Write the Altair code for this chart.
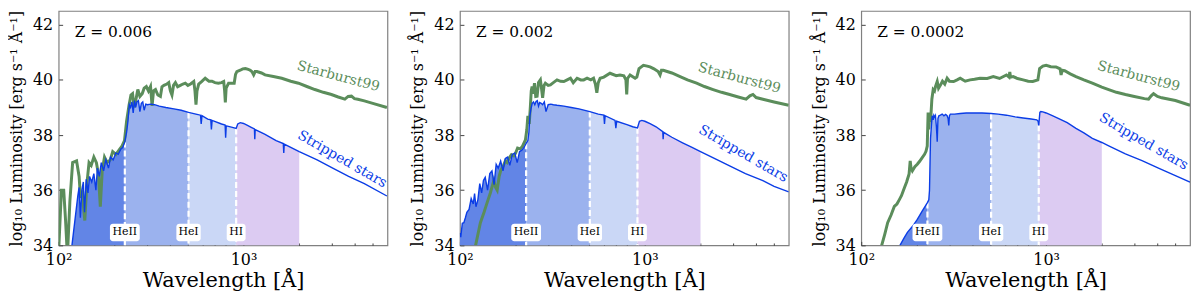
import altair as alt
import pandas as pd

FONT = "DejaVu Serif"
GREEN = "#5b8d5b"
BLUE = "#0b3de6"
REGIONS = ["r0", "r1", "r2", "r3"]
REGION_COLORS = ["#6285e6", "#9bb2ee", "#cad7f6", "#dccbf2"]
EDGES = [228, 504, 912, 2000]
EDGE_LABELS = ["HeII", "HeI", "HI"]
Z_LABELS = ["Z = 0.006", "Z = 0.002", "Z = 0.0002"]
X_TICKS = [100, 200, 300, 400, 500, 600, 700, 800, 900, 1000, 2000, 3000, 4000, 5000]
Y_TICKS = [34, 36, 38, 40, 42]

# ---------------- Panel 1 (Z = 0.006) ----------------
sb1_lam = [100, 103.5, 106.5, 109, 111.5, 115, 119, 125, 129, 131, 134, 138.5, 142, 146, 150, 155, 160, 164, 168, 172,
           177, 183, 190, 196, 204, 212, 220, 227, 233, 240, 246, 251, 256, 262, 268, 275, 283, 290, 298, 306,
           314, 320, 326, 334, 344, 355, 362, 371, 385, 394, 402, 410, 418, 428, 440, 455, 470, 484, 500, 517,
           538, 546, 553, 560, 572, 595, 620, 650, 675, 700, 730, 760, 781, 790, 797, 805, 830, 860, 890, 905,
           920, 959, 990, 1023, 1060, 1087, 1110, 1134, 1155, 1181, 1250, 1307, 1450, 1609, 1800, 1982, 2200, 2431,
           2700, 2987, 3250, 3530, 3680, 3832, 3980, 4148, 4500, 5000, 5960]
sb1_lum = [33.8, 36.0, 36.0, 34.9, 33.6, 35.6, 37.0, 37.06, 36.5, 35.8, 35.9, 34.9, 36.2, 37.0, 36.9, 37.2, 37.0, 36.6, 35.4, 36.7,
           37.2, 37.0, 37.1, 37.4, 37.3, 37.45, 37.6, 37.8, 38.5, 39.06, 39.45, 39.5, 39.0, 39.3, 39.65, 39.4, 39.5, 39.7, 39.76, 39.6,
           39.76, 39.06, 39.6, 39.65, 39.45, 39.4, 39.75, 39.8, 39.85, 39.9, 39.6, 39.45, 39.8, 39.9, 39.75, 39.8, 39.85, 39.88, 39.8, 39.85,
           39.94, 39.6, 39.1, 39.6, 39.85, 39.95, 40.06, 39.95, 39.95, 39.9, 39.88, 39.9, 39.94, 39.6, 39.18, 39.7, 39.88, 39.88, 39.88, 40.2,
           40.3, 40.35, 40.4, 40.41, 40.38, 40.35, 40.3, 40.18, 40.3, 40.3, 40.25, 40.18, 40.12, 40.06, 39.95, 39.88, 39.76, 39.65,
           39.55, 39.47, 39.38, 39.3, 39.4, 39.41, 39.32, 39.3, 39.24, 39.15, 39.0]
ss1_lam = [118, 127, 129, 131, 133.5, 136, 138, 141, 144, 147, 151, 155, 159, 162, 166, 170, 175, 180, 186, 191,
           197, 204, 210, 217, 222, 228, 233, 237, 241, 245, 249, 253, 257, 261, 265, 270, 275, 280, 285, 290,
           296, 302, 315, 330, 350, 380, 420, 460, 504, 560, 585, 590, 596, 640, 665, 670, 676, 760, 795, 800,
           806, 870, 912, 930, 960, 1000, 1050, 1100, 1145, 1150, 1156, 1300, 1500, 1640, 1650, 1660, 2000, 2500, 3000, 3700,
           4500, 5960]
ss1_lum = [34.0, 35.8, 36.1, 35.0, 36.0, 36.3, 35.2, 36.4, 35.9, 36.5, 36.3, 36.6, 36.0, 36.8, 36.5, 37.0, 36.7, 37.1, 36.8, 37.2,
           37.1, 37.35, 37.3, 37.5, 37.55, 37.76, 38.1, 38.5, 39.1, 39.0, 39.2, 38.8, 39.25, 39.0, 39.2, 39.25, 38.85, 39.15, 39.2, 38.9,
           39.12, 39.1, 39.12, 39.1, 39.05, 39.0, 38.95, 38.9, 38.82, 38.75, 38.72, 38.4, 38.7, 38.58, 38.55, 38.2, 38.53, 38.4, 38.36, 37.9,
           38.33, 38.28, 38.24, 38.4, 38.45, 38.42, 38.35, 38.28, 38.22, 37.85, 38.2, 38.03, 37.8, 37.69, 37.35, 37.67, 37.4, 37.1, 36.82, 36.5,
           36.24, 35.79]

# ---------------- Panel 2 (Z = 0.002) ----------------
sb2_lam = [121.5, 129, 135, 140, 146, 152.5, 156, 159, 163, 166, 172, 176, 180, 186, 190, 195.5, 200, 205, 212, 218,
           226, 230, 233, 237, 240.5, 243, 245.6, 249, 253, 257, 261.4, 266, 272.3, 276, 280, 285, 289.7, 300, 308.5, 320,
           335, 350, 364.6, 380, 396, 410, 430, 450, 467, 487, 510, 528, 540, 550, 560, 573, 600, 648, 700, 734,
           770, 790, 798, 806, 832, 886, 905, 930, 982, 1030, 1067, 1120, 1180, 1208, 1230, 1259, 1400, 1551, 1700, 1905,
           2100, 2340, 2600, 2874, 3200, 3530, 3700, 3843, 4000, 4349, 5000, 6000]
sb2_lum = [34.0, 34.82, 35.2, 35.53, 35.9, 36.35, 36.1, 36.0, 36.5, 36.7, 36.9, 37.06, 37.0, 37.2, 37.29, 37.25, 37.35, 37.53, 37.5, 37.6,
           37.82, 38.2, 38.7, 38.4, 39.06, 39.6, 39.76, 39.5, 39.88, 39.4, 39.41, 39.9, 40.0, 39.7, 39.35, 39.8, 39.88, 39.8, 39.82, 39.9,
           40.0, 39.95, 39.94, 40.0, 40.06, 39.9, 40.06, 40.0, 40.0, 40.06, 40.0, 40.06, 39.85, 39.53, 39.9, 40.06, 40.1, 40.24, 40.15, 40.18,
           40.15, 40.0, 39.47, 40.05, 40.18, 40.06, 40.1, 40.41, 40.53, 40.5, 40.47, 40.4, 40.3, 40.18, 40.35, 40.35, 40.25, 40.12, 40.0, 39.88,
           39.76, 39.65, 39.55, 39.47, 39.38, 39.3, 39.42, 39.47, 39.36, 39.3, 39.2, 39.08]
ss2_lam = [100, 101, 103, 105, 107, 109, 112, 115, 118, 120, 122, 125, 128, 131, 134, 137, 141, 145, 149, 153,
           157, 161, 166, 171, 176, 181, 186, 192, 198, 204, 210, 216, 222, 228, 233, 236, 239, 242, 246, 250,
           254, 258, 262, 266, 270, 275, 280, 286, 292, 300, 310, 320, 335, 365, 400, 440, 504, 560, 600, 605,
           610, 690, 697, 704, 800, 860, 912, 935, 963, 1000, 1067, 1150, 1250, 1256, 1262, 1400, 1600, 1800, 2000, 2500,
           2874, 3500, 4349, 5000, 6000]
ss2_lum = [34.45, 34.3, 34.8, 34.82, 35.0, 35.2, 35.3, 35.7, 35.5, 35.88, 35.4, 35.65, 36.24, 35.9, 36.35, 36.47, 36.0, 36.6, 36.7, 36.2,
           36.94, 36.8, 37.06, 36.7, 37.15, 37.2, 36.9, 37.3, 37.35, 37.0, 37.4, 37.45, 37.55, 37.7, 37.8, 38.1, 38.7, 38.94, 39.15, 39.2,
           39.1, 39.22, 39.25, 39.05, 39.18, 39.15, 39.1, 39.2, 38.85, 39.1, 39.12, 39.1, 39.08, 39.05, 39.0, 38.95, 38.85, 38.76, 38.72, 38.4,
           38.7, 38.53, 38.25, 38.5, 38.38, 38.3, 38.26, 38.5, 38.53, 38.5, 38.41, 38.3, 38.12, 37.85, 38.1, 37.92, 37.72, 37.55, 37.4, 37.08,
           36.88, 36.6, 36.35, 36.14, 35.94]

# ---------------- Panel 3 (Z = 0.0002) ----------------
sb3_lam = [129, 134, 139, 145, 151, 156, 160.5, 165, 170.6, 176, 181.5, 184, 186, 189, 195, 201, 207, 213.7, 220, 224,
           227.5, 230, 232, 234, 237, 241, 245, 249, 252.3, 257.6, 262, 268.7, 275, 283, 291.4, 300, 316, 330, 343, 365,
           388, 410, 439, 480, 518, 560, 610, 630, 636, 642, 663, 700, 751, 800, 847, 902, 912, 922, 960, 1000,
           1060, 1130, 1190, 1205, 1220, 1260, 1350, 1450, 1600, 1778, 2000, 2180, 2400, 2683, 3000, 3400, 3580, 3700, 3810, 4000,
           4220, 5000, 6000]
sb3_lum = [34.0, 34.4, 34.82, 35.1, 35.41, 35.5, 35.65, 35.8, 36.06, 36.3, 36.59, 37.06, 36.8, 36.7, 36.85, 36.94, 37.05, 37.18, 37.3, 37.41,
           37.6, 38.82, 38.2, 38.6, 38.47, 39.3, 39.65, 39.6, 39.76, 39.94, 39.7, 39.82, 39.95, 39.85, 40.06, 39.95, 39.94, 40.0, 40.06, 39.95,
           40.0, 40.02, 40.06, 40.05, 40.12, 40.05, 40.18, 40.1, 40.29, 40.1, 40.12, 40.05, 40.0, 39.95, 39.94, 40.0, 40.2, 40.41, 40.5, 40.53,
           40.48, 40.47, 40.4, 40.18, 40.35, 40.33, 40.22, 40.12, 40.0, 39.88, 39.74, 39.65, 39.55, 39.47, 39.4, 39.32, 39.3, 39.42, 39.5, 39.4,
           39.35, 39.25, 39.08]
ss3_lam = [162, 170, 177.7, 190, 201, 214, 228, 232, 234, 237, 240, 242, 245, 247, 250, 252, 255, 257.6, 260, 263,
           268, 274, 280, 286, 291.4, 295, 297.4, 300, 303.5, 320, 343, 370, 404, 450, 504, 550, 610, 680, 751, 830,
           890, 905, 912, 925, 936, 960, 1000, 1080, 1178, 1300, 1450, 1600, 1778, 2000, 2180, 2683, 3300, 4050, 5000, 6000]
ss3_lum = [34.0, 34.25, 34.47, 34.7, 34.94, 35.25, 35.55, 35.65, 36.0, 37.88, 38.4, 38.7, 38.55, 38.72, 38.65, 38.7, 38.3, 37.76, 38.6, 38.7,
           38.72, 38.76, 38.7, 38.75, 38.7, 38.6, 38.35, 38.7, 38.76, 38.76, 38.78, 38.8, 38.8, 38.8, 38.78, 38.76, 38.72, 38.66, 38.62, 38.58,
           38.55, 38.5, 38.35, 38.82, 38.85, 38.84, 38.8, 38.7, 38.59, 38.45, 38.24, 38.08, 37.88, 37.73, 37.61, 37.32, 37.07, 36.8, 36.53, 36.29]

# label anchors (data coordinates: wavelength, log L)
sb_label_lam = [3251, 3245, 3162]
sb_label_lum = [40.12, 40.06, 40.12]
ss_label_lam = [3413, 3405, 3365]
ss_label_lum = [37.12, 37.32, 37.76]

PW, PH = 331, 236
xscale = alt.Scale(type="log", domain=[100, 6000], nice=False)
yscale = alt.Scale(domain=[34, 42.5], nice=False, zero=False)

xaxis = alt.Axis(
    values=X_TICKS,
    labelExpr="datum.value == 100 ? '10²' : (datum.value == 1000 ? '10³' : '')",
    title="Wavelength [Å]", domain=False, grid=False,
    tickSize=4, offset=-4, tickWidth=1,
    tickDash={"condition": {"test": "datum.value != 100 && datum.value != 1000", "value": [0, 1.6, 2.4, 20]}, "value": []},
    labelFlush=False, labelOverlap=False, labelPadding=6, labelFontSize=16,
    titleFontSize=21, titlePadding=2, titleFontWeight="normal",
)
yaxis = alt.Axis(
    values=Y_TICKS, format="d",
    title="log₁₀ Luminosity [erg s⁻¹ Å⁻¹]", domain=False, grid=False,
    tickSize=4, offset=-4, tickWidth=1,
    labelFlush=False, labelPadding=6, labelFontSize=16,
    titleFontSize=16, titlePadding=8, titleFontWeight="normal",
)


def panel(i, sb_lam, sb_lum, ss_lam, ss_lum):
    X = alt.X("lam:Q", scale=xscale, axis=xaxis)
    Y = alt.Y("lum:Q", scale=yscale, axis=yaxis)
    Ys = alt.Y("lum:Q", scale=yscale, axis=yaxis, stack=None)

    sb = pd.DataFrame({"lam": sb_lam, "lum": sb_lum})
    ss = pd.DataFrame({"lam": ss_lam, "lum": ss_lum})
    lookup = dict(zip(ss_lam, ss_lum))

    rows = []
    lows = [ss_lam[0]] + EDGES[:-1]
    for r, (lo, hi) in enumerate(zip(lows, EDGES)):
        for l, v in zip(ss_lam, ss_lum):
            if lo <= l <= hi:
                rows.append({"lam": l, "lum": v, "region": REGIONS[r]})
    fill = pd.DataFrame(rows)
    edges = pd.DataFrame({"lam": EDGES[:3], "lum": [lookup[e] for e in EDGES[:3]], "label": EDGE_LABELS})

    area = alt.Chart(fill).mark_area(opacity=1).encode(
        x=X, y=Ys, y2=alt.datum(34),
        color=alt.Color("region:N", scale=alt.Scale(domain=REGIONS, range=REGION_COLORS), legend=None),
    )
    rules = alt.Chart(edges).mark_rule(color="white", strokeWidth=2.2, strokeDash=[6, 3]).encode(
        x=X, y=Y, y2=alt.datum(34)
    )
    green = alt.Chart(sb).mark_line(color=GREEN, strokeWidth=3, clip=True).encode(x=X, y=Y)
    blue = alt.Chart(ss).mark_line(color=BLUE, strokeWidth=1.4, clip=True).encode(x=X, y=Y)
    boxes = alt.Chart(edges).transform_calculate(
        hw="4 + 2.75 * length(datum.label)",
    ).transform_calculate(
        x0="datum.lam * pow(10, -datum.hw / 186.2)",
        x1="datum.lam * pow(10, datum.hw / 186.2)",
    ).mark_rect(fill="white", cornerRadius=3).encode(
        x=alt.X("x0:Q", scale=xscale, axis=xaxis), x2="x1:Q",
        y=alt.datum(34.15), y2=alt.datum(34.78),
    )
    boxtext = alt.Chart(edges).mark_text(font=FONT, fontSize=11, color="black", baseline="middle").encode(
        x=X, y=alt.datum(34.47), text="label:N"
    )
    zdf = pd.DataFrame({"lam": [122], "lum": [41.75], "t": [Z_LABELS[i]]})
    ztext = alt.Chart(zdf).mark_text(align="left", baseline="middle", font=FONT, fontSize=15.5, color="black").encode(
        x=X, y=Y, text="t:N"
    )
    sbl = pd.DataFrame({"lam": [sb_label_lam[i]], "lum": [sb_label_lum[i]], "t": ["Starburst99"]})
    sbtext = alt.Chart(sbl).mark_text(font=FONT, fontSize=14, color=GREEN, angle=15, baseline="middle").encode(
        x=X, y=Y, text="t:N"
    )
    ssl = pd.DataFrame({"lam": [ss_label_lam[i]], "lum": [ss_label_lum[i]], "t": ["Stripped stars"]})
    sstext = alt.Chart(ssl).mark_text(font=FONT, fontSize=14, color=BLUE, angle=30, baseline="middle").encode(
        x=X, y=Y, text="t:N"
    )
    return alt.layer(area, rules, green, blue, boxes, boxtext, ztext, sbtext, sstext).properties(width=PW, height=PH)


p1 = panel(0, sb1_lam, sb1_lum, ss1_lam, ss1_lum)
p2 = panel(1, sb2_lam, sb2_lum, ss2_lam, ss2_lum)
p3 = panel(2, sb3_lam, sb3_lum, ss3_lam, ss3_lum)

chart = alt.hconcat(p1, p2, p3, spacing=73, bounds="flush").properties(
    padding={"left": 0, "top": 0, "right": 0, "bottom": 0}
).configure_view(
    stroke="#808080", strokeWidth=1.2
).configure_axis(
    labelFont=FONT, titleFont=FONT, labelColor="black", titleColor="black", tickColor="#444444"
)

chart.save("out.html", embed_options={"renderer": "svg", "actions": False})
